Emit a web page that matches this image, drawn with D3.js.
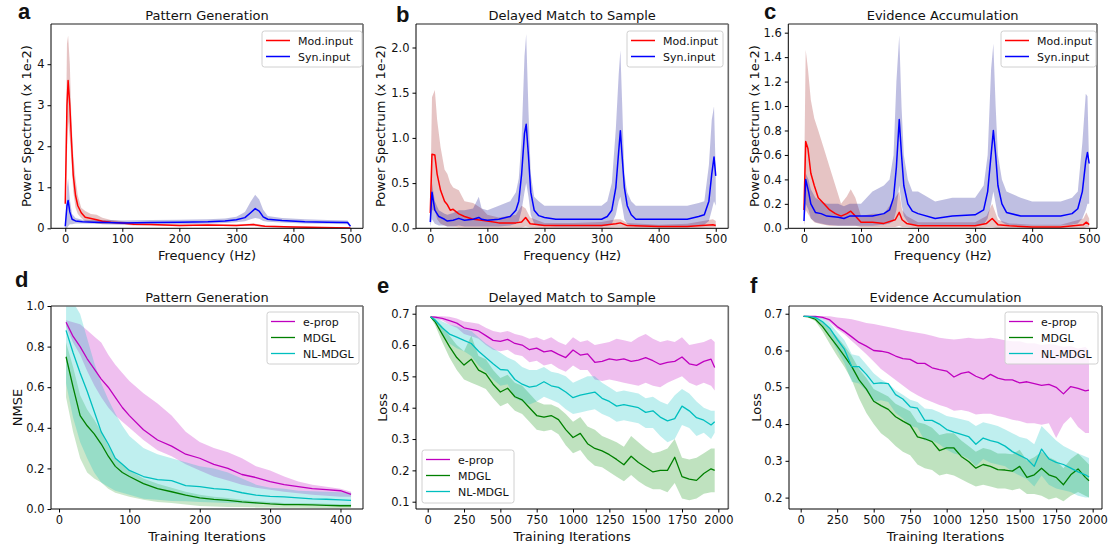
<!DOCTYPE html>
<html>
<head>
<meta charset="utf-8">
<script src="https://cdn.jsdelivr.net/npm/d3@7"></script>
<style>
body { margin: 0; background: #fff; }
text { font-family: "DejaVu Sans", sans-serif; fill: #111; }
</style>
</head>
<body>
<svg id="fig" width="1110" height="546"></svg>
<script>
// ---------- panel a: Pattern Generation spectrum (x 1e-2) ----------
var freqModA = [0, 3, 5, 8, 11, 14, 18, 22, 28, 35, 45, 55, 65, 80, 100, 120, 150, 200, 250, 300, 330, 350, 400, 450, 500];
var modA     = [0.6, 3.0, 3.6, 3.0, 2.1, 1.3, 0.8, 0.55, 0.38, 0.27, 0.24, 0.21, 0.17, 0.15, 0.13, 0.1, 0.09, 0.07, 0.08, 0.07, 0.09, 0.05, 0.03, 0.02, 0.01];
var modAHi   = [1.0, 4.5, 4.7, 4.0, 2.6, 1.8, 1.2, 0.8, 0.5, 0.42, 0.35, 0.33, 0.26, 0.2, 0.17, 0.13, 0.11, 0.09, 0.1, 0.09, 0.12, 0.07, 0.05, 0.03, 0.02];
var modALo   = [0.3, 1.8, 2.6, 2.2, 1.6, 0.9, 0.5, 0.35, 0.25, 0.17, 0.15, 0.12, 0.1, 0.1, 0.09, 0.07, 0.07, 0.05, 0.06, 0.05, 0.06, 0.03, 0.02, 0.01, 0.0];
var freqSynA = [0, 3, 5, 8, 12, 18, 30, 50, 75, 100, 150, 200, 250, 280, 300, 315, 325, 333, 340, 347, 355, 380, 420, 460, 495, 500];
var synA     = [0.05, 0.55, 0.68, 0.4, 0.22, 0.18, 0.16, 0.15, 0.14, 0.13, 0.14, 0.15, 0.16, 0.18, 0.21, 0.26, 0.38, 0.48, 0.42, 0.28, 0.22, 0.19, 0.16, 0.15, 0.14, 0.05];
var synAHi   = [0.1, 1.0, 1.22, 0.7, 0.35, 0.25, 0.21, 0.2, 0.2, 0.19, 0.2, 0.21, 0.22, 0.24, 0.28, 0.4, 0.65, 0.82, 0.7, 0.45, 0.3, 0.25, 0.22, 0.2, 0.19, 0.07];
var synALo   = [0.0, 0.0, 0.05, 0.1, 0.1, 0.12, 0.12, 0.11, 0.1, 0.09, 0.1, 0.1, 0.11, 0.13, 0.15, 0.17, 0.22, 0.25, 0.23, 0.18, 0.16, 0.14, 0.12, 0.11, 0.1, 0.03];

// ---------- panel b: Delayed Match to Sample spectrum ----------
var freqModB = [0, 3, 8, 12, 18, 25, 30, 35, 40, 50, 60, 75, 90, 100, 120, 150, 160, 167, 175, 200, 250, 300, 325, 333, 345, 400, 450, 495, 500];
var modB     = [0.17, 0.82, 0.81, 0.6, 0.42, 0.3, 0.26, 0.2, 0.21, 0.16, 0.13, 0.1, 0.09, 0.08, 0.06, 0.06, 0.07, 0.12, 0.05, 0.03, 0.03, 0.03, 0.05, 0.06, 0.03, 0.02, 0.02, 0.04, 0.03];
var modBHi   = [0.3, 1.45, 1.53, 1.2, 0.9, 0.65, 0.6, 0.5, 0.45, 0.42, 0.3, 0.28, 0.22, 0.15, 0.12, 0.15, 0.25, 0.22, 0.12, 0.06, 0.06, 0.07, 0.1, 0.1, 0.06, 0.04, 0.05, 0.1, 0.08];
var modBLo   = [0.05, 0.2, 0.2, 0.1, 0.05, 0.03, 0.02, 0.02, 0.02, 0.01, 0.01, 0.01, 0.01, 0.01, 0.01, 0.01, 0.01, 0.02, 0.01, 0, 0, 0, 0.01, 0.01, 0, 0, 0, 0.01, 0.01];
var freqSynB = [0, 3, 8, 15, 25, 30, 40, 50, 60, 75, 85, 90, 100, 120, 140, 150, 155, 160, 165, 168, 172, 176, 182, 190, 200, 220, 250, 280, 300, 310, 318, 325, 330, 333, 336, 340, 345, 352, 360, 400, 450, 470, 480, 488, 493, 497, 500];
var synB     = [0.07, 0.4, 0.2, 0.13, 0.1, 0.08, 0.09, 0.11, 0.09, 0.1, 0.12, 0.1, 0.09, 0.1, 0.13, 0.2, 0.3, 0.6, 1.05, 1.15, 0.8, 0.4, 0.2, 0.14, 0.12, 0.1, 0.1, 0.1, 0.1, 0.13, 0.2, 0.45, 0.85, 1.08, 0.8, 0.45, 0.25, 0.15, 0.1, 0.1, 0.1, 0.13, 0.15, 0.3, 0.6, 0.79, 0.58];
var synBHi   = [0.1, 0.5, 0.3, 0.2, 0.16, 0.15, 0.17, 0.2, 0.2, 0.22, 0.35, 0.22, 0.2, 0.25, 0.3, 0.4, 0.55, 1.0, 1.9, 2.15, 1.3, 0.6, 0.35, 0.3, 0.25, 0.25, 0.25, 0.25, 0.25, 0.3, 0.5, 1.1, 1.7, 1.97, 1.4, 0.6, 0.4, 0.3, 0.25, 0.25, 0.25, 0.28, 0.3, 0.7, 1.2, 1.35, 0.6];
var synBLo   = [0.02, 0.1, 0.05, 0.03, 0.03, 0.02, 0.02, 0.03, 0.02, 0.02, 0.02, 0.02, 0.02, 0.02, 0.03, 0.05, 0.08, 0.2, 0.4, 0.5, 0.35, 0.15, 0.05, 0.03, 0.03, 0.02, 0.02, 0.02, 0.02, 0.03, 0.05, 0.15, 0.3, 0.35, 0.25, 0.1, 0.05, 0.03, 0.02, 0.02, 0.02, 0.03, 0.04, 0.08, 0.2, 0.3, 0.25];

// ---------- panel c: Evidence Accumulation spectrum ----------
var freqModC = [0, 3, 7, 12, 18, 25, 35, 45, 55, 65, 75, 82, 90, 100, 120, 140, 160, 167, 172, 180, 200, 250, 300, 320, 330, 340, 360, 400, 450, 490, 495, 500];
var modC     = [0.15, 0.71, 0.65, 0.45, 0.35, 0.25, 0.2, 0.15, 0.12, 0.1, 0.12, 0.14, 0.1, 0.05, 0.05, 0.04, 0.07, 0.13, 0.07, 0.04, 0.02, 0.02, 0.02, 0.04, 0.08, 0.03, 0.02, 0.01, 0.01, 0.03, 0.05, 0.03];
var modCHi   = [0.3, 1.46, 1.3, 1.05, 0.9, 0.8, 0.65, 0.5, 0.35, 0.2, 0.26, 0.32, 0.25, 0.1, 0.12, 0.12, 0.25, 0.3, 0.15, 0.1, 0.05, 0.05, 0.05, 0.1, 0.2, 0.07, 0.04, 0.03, 0.03, 0.08, 0.13, 0.08];
var modCLo   = [0.02, 0.15, 0.12, 0.08, 0.05, 0.04, 0.03, 0.02, 0.02, 0.02, 0.02, 0.02, 0.02, 0.01, 0.01, 0.01, 0.01, 0.02, 0.01, 0.01, 0, 0, 0, 0.01, 0.01, 0, 0, 0, 0, 0, 0.01, 0.01];
var freqSynC = [0, 3, 8, 12, 20, 30, 40, 60, 70, 80, 100, 120, 140, 150, 157, 162, 167, 171, 175, 182, 190, 200, 230, 260, 300, 315, 322, 328, 332, 336, 340, 347, 355, 380, 400, 450, 470, 480, 488, 494, 497, 500];
var synC     = [0.06, 0.4, 0.3, 0.2, 0.13, 0.12, 0.1, 0.09, 0.08, 0.1, 0.1, 0.1, 0.12, 0.15, 0.25, 0.5, 0.89, 0.6, 0.35, 0.2, 0.14, 0.12, 0.08, 0.1, 0.11, 0.15, 0.3, 0.6, 0.8, 0.6, 0.35, 0.2, 0.13, 0.1, 0.1, 0.1, 0.12, 0.16, 0.3, 0.55, 0.62, 0.53];
var synCHi   = [0.1, 0.45, 0.4, 0.32, 0.25, 0.22, 0.2, 0.2, 0.18, 0.2, 0.2, 0.3, 0.35, 0.4, 0.6, 1.2, 1.58, 1.0, 0.6, 0.4, 0.3, 0.3, 0.22, 0.25, 0.25, 0.35, 0.6, 1.3, 1.51, 1.0, 0.6, 0.4, 0.3, 0.25, 0.22, 0.22, 0.25, 0.3, 0.7, 1.1, 1.08, 0.5];
var synCLo   = [0.02, 0.2, 0.15, 0.08, 0.05, 0.04, 0.03, 0.02, 0.02, 0.02, 0.02, 0.02, 0.03, 0.04, 0.06, 0.15, 0.35, 0.2, 0.1, 0.05, 0.03, 0.03, 0.02, 0.02, 0.02, 0.03, 0.08, 0.2, 0.3, 0.2, 0.1, 0.05, 0.03, 0.02, 0.02, 0.02, 0.03, 0.04, 0.08, 0.15, 0.2, 0.2];

// ---------- panel d: Pattern Generation NMSE ----------
var iterD     = [10, 20, 30, 40, 50, 60, 70, 80, 90, 100, 120, 140, 160, 180, 200, 220, 240, 260, 280, 300, 320, 340, 360, 380, 400, 415];
var epropD    = [0.92, 0.85, 0.80, 0.74, 0.69, 0.64, 0.60, 0.55, 0.50, 0.46, 0.39, 0.34, 0.31, 0.27, 0.25, 0.22, 0.20, 0.17, 0.155, 0.135, 0.12, 0.11, 0.10, 0.095, 0.09, 0.072];
var epropDHi  = [0.93, 0.92, 0.91, 0.88, 0.85, 0.82, 0.76, 0.71, 0.67, 0.63, 0.57, 0.52, 0.46, 0.38, 0.33, 0.30, 0.28, 0.25, 0.21, 0.19, 0.16, 0.135, 0.12, 0.11, 0.10, 0.085];
var epropDLo  = [0.90, 0.82, 0.76, 0.68, 0.61, 0.55, 0.50, 0.46, 0.43, 0.40, 0.34, 0.29, 0.26, 0.22, 0.19, 0.16, 0.14, 0.12, 0.105, 0.095, 0.085, 0.077, 0.07, 0.065, 0.06, 0.06];
var mdglD     = [0.75, 0.60, 0.46, 0.41, 0.37, 0.32, 0.26, 0.21, 0.18, 0.16, 0.125, 0.10, 0.085, 0.068, 0.055, 0.047, 0.042, 0.035, 0.03, 0.025, 0.022, 0.022, 0.02, 0.018, 0.016, 0.016];
var mdglDHi   = [0.82, 0.70, 0.56, 0.49, 0.44, 0.38, 0.31, 0.25, 0.22, 0.19, 0.15, 0.125, 0.105, 0.085, 0.07, 0.06, 0.054, 0.046, 0.04, 0.034, 0.03, 0.03, 0.028, 0.026, 0.024, 0.024];
var mdglDLo   = [0.55, 0.38, 0.25, 0.18, 0.15, 0.13, 0.10, 0.08, 0.07, 0.06, 0.045, 0.035, 0.03, 0.022, 0.015, 0.012, 0.01, 0.01, 0.008, 0.007, 0.006, 0.006, 0.005, 0.005, 0.005, 0.005];
var nlmdglD   = [0.88, 0.77, 0.67, 0.58, 0.48, 0.38, 0.32, 0.25, 0.22, 0.19, 0.16, 0.145, 0.14, 0.115, 0.11, 0.10, 0.095, 0.08, 0.068, 0.062, 0.06, 0.055, 0.05, 0.048, 0.045, 0.042];
var nlmdglDHi = [1.05, 1.02, 0.96, 0.84, 0.72, 0.62, 0.54, 0.47, 0.41, 0.36, 0.30, 0.27, 0.25, 0.23, 0.21, 0.20, 0.18, 0.15, 0.12, 0.105, 0.1, 0.09, 0.088, 0.085, 0.082, 0.08];
var nlmdglDLo = [0.62, 0.45, 0.33, 0.25, 0.18, 0.13, 0.11, 0.09, 0.08, 0.07, 0.05, 0.045, 0.04, 0.038, 0.035, 0.032, 0.03, 0.028, 0.025, 0.025, 0.022, 0.021, 0.02, 0.02, 0.02, 0.02];

// ---------- panels e, f: loss curves ----------
var iterEF = [20, 50, 100, 150, 200, 250, 300, 350, 400, 450, 500, 550, 600, 650, 700, 750, 800, 850, 900, 950, 1000, 1050, 1100, 1150, 1200, 1250, 1300, 1350, 1400, 1450, 1500, 1550, 1600, 1650, 1700, 1750, 1800, 1850, 1900, 1950, 1975];

var epropE    = [0.690, 0.689, 0.685, 0.678, 0.670, 0.655, 0.650, 0.645, 0.630, 0.615, 0.612, 0.618, 0.605, 0.600, 0.585, 0.590, 0.578, 0.582, 0.570, 0.560, 0.584, 0.568, 0.572, 0.545, 0.548, 0.556, 0.552, 0.556, 0.548, 0.552, 0.560, 0.550, 0.538, 0.545, 0.548, 0.562, 0.540, 0.535, 0.548, 0.555, 0.528];
var epropEHi  = [0.692, 0.693, 0.692, 0.690, 0.685, 0.675, 0.672, 0.668, 0.655, 0.645, 0.640, 0.645, 0.635, 0.630, 0.620, 0.625, 0.615, 0.625, 0.610, 0.600, 0.625, 0.610, 0.615, 0.600, 0.605, 0.610, 0.620, 0.615, 0.610, 0.625, 0.635, 0.620, 0.610, 0.615, 0.610, 0.625, 0.600, 0.605, 0.610, 0.620, 0.610];
var epropELo  = [0.688, 0.685, 0.678, 0.665, 0.655, 0.635, 0.628, 0.620, 0.600, 0.585, 0.580, 0.585, 0.570, 0.565, 0.545, 0.550, 0.535, 0.540, 0.525, 0.515, 0.535, 0.520, 0.520, 0.490, 0.485, 0.490, 0.485, 0.480, 0.475, 0.470, 0.480, 0.470, 0.465, 0.480, 0.490, 0.500, 0.480, 0.470, 0.480, 0.470, 0.455];
var mdglE     = [0.690, 0.675, 0.635, 0.595, 0.560, 0.536, 0.555, 0.520, 0.508, 0.475, 0.450, 0.462, 0.435, 0.425, 0.400, 0.375, 0.370, 0.375, 0.362, 0.330, 0.305, 0.318, 0.285, 0.270, 0.262, 0.250, 0.235, 0.218, 0.245, 0.225, 0.210, 0.195, 0.200, 0.200, 0.242, 0.180, 0.172, 0.168, 0.190, 0.205, 0.200];
var mdglEHi   = [0.692, 0.685, 0.660, 0.630, 0.600, 0.580, 0.630, 0.565, 0.555, 0.520, 0.495, 0.505, 0.480, 0.470, 0.445, 0.420, 0.410, 0.410, 0.400, 0.380, 0.355, 0.370, 0.340, 0.330, 0.310, 0.300, 0.290, 0.275, 0.310, 0.290, 0.270, 0.255, 0.260, 0.270, 0.300, 0.240, 0.235, 0.240, 0.255, 0.270, 0.270];
var mdglELo   = [0.688, 0.665, 0.610, 0.560, 0.520, 0.490, 0.480, 0.470, 0.460, 0.430, 0.405, 0.415, 0.390, 0.380, 0.355, 0.330, 0.325, 0.330, 0.315, 0.280, 0.255, 0.265, 0.235, 0.215, 0.210, 0.195, 0.180, 0.165, 0.185, 0.165, 0.150, 0.140, 0.140, 0.130, 0.160, 0.110, 0.105, 0.110, 0.125, 0.130, 0.130];
var nlmdglE   = [0.690, 0.680, 0.655, 0.635, 0.625, 0.615, 0.605, 0.580, 0.560, 0.540, 0.522, 0.520, 0.490, 0.475, 0.466, 0.470, 0.483, 0.470, 0.465, 0.450, 0.432, 0.440, 0.445, 0.450, 0.430, 0.420, 0.405, 0.410, 0.405, 0.400, 0.385, 0.390, 0.370, 0.358, 0.365, 0.405, 0.390, 0.368, 0.360, 0.345, 0.355];
var nlmdglEHi = [0.692, 0.690, 0.675, 0.665, 0.660, 0.650, 0.645, 0.625, 0.605, 0.590, 0.575, 0.560, 0.550, 0.530, 0.520, 0.520, 0.530, 0.515, 0.510, 0.500, 0.480, 0.490, 0.500, 0.500, 0.480, 0.465, 0.450, 0.455, 0.450, 0.445, 0.430, 0.435, 0.420, 0.410, 0.440, 0.460, 0.445, 0.420, 0.400, 0.390, 0.390];
var nlmdglELo = [0.688, 0.670, 0.635, 0.605, 0.590, 0.580, 0.565, 0.535, 0.515, 0.490, 0.470, 0.475, 0.430, 0.420, 0.410, 0.420, 0.435, 0.425, 0.415, 0.395, 0.380, 0.385, 0.390, 0.395, 0.380, 0.370, 0.355, 0.360, 0.355, 0.350, 0.335, 0.335, 0.310, 0.290, 0.300, 0.345, 0.335, 0.310, 0.320, 0.300, 0.320];

var epropF    = [0.693, 0.693, 0.693, 0.690, 0.683, 0.665, 0.652, 0.637, 0.622, 0.612, 0.600, 0.598, 0.594, 0.585, 0.578, 0.576, 0.565, 0.565, 0.553, 0.548, 0.544, 0.528, 0.538, 0.542, 0.530, 0.522, 0.535, 0.525, 0.520, 0.520, 0.512, 0.515, 0.510, 0.505, 0.508, 0.500, 0.482, 0.502, 0.497, 0.490, 0.492];
var epropFHi  = [0.694, 0.694, 0.694, 0.694, 0.693, 0.690, 0.688, 0.685, 0.680, 0.675, 0.672, 0.668, 0.664, 0.660, 0.655, 0.652, 0.648, 0.645, 0.640, 0.635, 0.632, 0.630, 0.632, 0.635, 0.632, 0.632, 0.635, 0.632, 0.628, 0.625, 0.625, 0.620, 0.620, 0.615, 0.618, 0.615, 0.610, 0.612, 0.605, 0.610, 0.600];
var epropFLo  = [0.692, 0.692, 0.690, 0.686, 0.676, 0.658, 0.644, 0.626, 0.608, 0.590, 0.570, 0.550, 0.535, 0.520, 0.505, 0.490, 0.478, 0.468, 0.460, 0.452, 0.446, 0.436, 0.438, 0.434, 0.426, 0.428, 0.428, 0.422, 0.418, 0.412, 0.408, 0.402, 0.402, 0.398, 0.402, 0.362, 0.400, 0.420, 0.392, 0.376, 0.376];
var mdglF     = [0.693, 0.692, 0.685, 0.665, 0.638, 0.612, 0.585, 0.556, 0.520, 0.495, 0.462, 0.450, 0.440, 0.420, 0.408, 0.397, 0.365, 0.360, 0.352, 0.328, 0.335, 0.335, 0.312, 0.298, 0.280, 0.290, 0.285, 0.276, 0.275, 0.272, 0.285, 0.255, 0.262, 0.280, 0.262, 0.255, 0.235, 0.262, 0.278, 0.255, 0.246];
var mdglFHi   = [0.694, 0.694, 0.690, 0.678, 0.658, 0.637, 0.612, 0.585, 0.550, 0.525, 0.495, 0.485, 0.475, 0.455, 0.445, 0.435, 0.405, 0.400, 0.390, 0.370, 0.375, 0.375, 0.355, 0.340, 0.325, 0.335, 0.330, 0.320, 0.320, 0.318, 0.330, 0.300, 0.310, 0.325, 0.310, 0.300, 0.280, 0.305, 0.320, 0.300, 0.290];
var mdglFLo   = [0.692, 0.690, 0.680, 0.652, 0.618, 0.585, 0.555, 0.520, 0.470, 0.430, 0.400, 0.375, 0.360, 0.340, 0.325, 0.315, 0.290, 0.280, 0.275, 0.260, 0.265, 0.260, 0.250, 0.240, 0.230, 0.235, 0.230, 0.225, 0.225, 0.220, 0.225, 0.210, 0.210, 0.205, 0.195, 0.200, 0.190, 0.205, 0.215, 0.205, 0.200];
var nlmdglF   = [0.693, 0.693, 0.690, 0.678, 0.660, 0.630, 0.603, 0.556, 0.556, 0.535, 0.510, 0.512, 0.510, 0.480, 0.468, 0.447, 0.443, 0.410, 0.410, 0.400, 0.385, 0.378, 0.372, 0.366, 0.345, 0.362, 0.355, 0.350, 0.340, 0.325, 0.315, 0.305, 0.285, 0.332, 0.305, 0.296, 0.290, 0.280, 0.270, 0.262, 0.256];
var nlmdglFHi = [0.694, 0.694, 0.693, 0.688, 0.675, 0.650, 0.628, 0.590, 0.585, 0.562, 0.538, 0.522, 0.510, 0.492, 0.480, 0.466, 0.460, 0.442, 0.440, 0.432, 0.422, 0.418, 0.413, 0.408, 0.395, 0.405, 0.400, 0.395, 0.385, 0.375, 0.365, 0.360, 0.345, 0.395, 0.375, 0.355, 0.340, 0.330, 0.320, 0.312, 0.308];
var nlmdglFLo = [0.692, 0.692, 0.685, 0.665, 0.640, 0.600, 0.565, 0.515, 0.510, 0.490, 0.460, 0.465, 0.460, 0.430, 0.415, 0.395, 0.390, 0.355, 0.355, 0.345, 0.330, 0.320, 0.315, 0.305, 0.285, 0.305, 0.295, 0.290, 0.285, 0.270, 0.260, 0.250, 0.230, 0.260, 0.235, 0.225, 0.220, 0.215, 0.205, 0.200, 0.200];

// ---------- labels / ticks ----------
var specNames = ["Mod.input", "Syn.input"];
var lossNames = ["e-prop", "MDGL", "NL-MDGL"];
var titles = ["Pattern Generation", "Delayed Match to Sample", "Evidence Accumulation"];
var freqTicks = [0, 100, 200, 300, 400, 500];
var iterTicksD = [0, 100, 200, 300, 400];
var iterTicksEF = [0, 250, 500, 750, 1000, 1250, 1500, 1750, 2000];

var RED = "#ff0000", BLUE = "#0000ff";
var MAG = "#bf00bf", GRN = "#008000", CYN = "#00bfbf";

var svg = d3.select("#fig");

function spec(name, x, m, lo, hi, col, band, op) {
  return {name: name, x: x, mean: m, lo: lo, hi: hi, color: col, band: band, op: op};
}

var panels = [
  {letter: "a", lx: 18, ly: 19, title: titles[0], l: 51, t: 24, r: 363, b: 228.3,
   xDom: [-25, 522], yDom: [0, 4.98], xTicks: freqTicks, yTicks: [0, 1, 2, 3, 4], yFmt: d3.format("d"),
   xLabel: "Frequency (Hz)", yLabel: "Power Spectrum (x 1e-2)", ylx: 31, lw: 1.5,
   legend: {x: 262, y: 31, w: 100, h: 36},
   series: [spec(specNames[0], freqModA, modA, modALo, modAHi, RED, "#a52a2a", 0.28),
            spec(specNames[1], freqSynA, synA, synALo, synAHi, BLUE, "#00008b", 0.25)]},
  {letter: "b", lx: 396, ly: 22, title: titles[1], l: 416, t: 24, r: 728.3, b: 228.3,
   xDom: [-25, 522], yDom: [0, 2.26], xTicks: freqTicks, yTicks: [0, 0.5, 1.0, 1.5, 2.0], yFmt: d3.format(".1f"),
   xLabel: "Frequency (Hz)", yLabel: "Power Spectrum (x 1e-2)", ylx: 385, lw: 1.5,
   legend: {x: 627, y: 31, w: 96, h: 36},
   series: [spec(specNames[0], freqModB, modB, modBLo, modBHi, RED, "#a52a2a", 0.28),
            spec(specNames[1], freqSynB, synB, synBLo, synBHi, BLUE, "#00008b", 0.25)]},
  {letter: "c", lx: 764, ly: 19, title: titles[2], l: 788.3, t: 24, r: 1097, b: 228.3,
   xDom: [-27.5, 513.7], yDom: [0, 1.671], xTicks: freqTicks, yTicks: [0, 0.2, 0.4, 0.6, 0.8, 1.0, 1.2, 1.4, 1.6], yFmt: d3.format(".1f"),
   xLabel: "Frequency (Hz)", yLabel: "Power Spectrum (x 1e-2)", ylx: 759, lw: 1.5,
   legend: {x: 1001, y: 31, w: 95, h: 36},
   series: [spec(specNames[0], freqModC, modC, modCLo, modCHi, RED, "#a52a2a", 0.28),
            spec(specNames[1], freqSynC, synC, synCLo, synCHi, BLUE, "#00008b", 0.25)]},
  {letter: "d", lx: 15, ly: 287, title: titles[0], l: 51, t: 306, r: 363, b: 509,
   xDom: [-11.4, 432], yDom: [0, 1.0], xTicks: iterTicksD, yTicks: [0, 0.2, 0.4, 0.6, 0.8, 1.0], yFmt: d3.format(".1f"),
   xLabel: "Training Iterations", yLabel: "NMSE", ylx: 22, lw: 1.3,
   legend: {x: 267, y: 312, w: 92, h: 52},
   series: [spec(lossNames[0], iterD, epropD, epropDLo, epropDHi, MAG, MAG, 0.25),
            spec(lossNames[1], iterD, mdglD, mdglDLo, mdglDHi, GRN, "#2ca02c", 0.25),
            spec(lossNames[2], iterD, nlmdglD, nlmdglDLo, nlmdglDHi, CYN, CYN, 0.25)]},
  {letter: "e", lx: 377, ly: 293, title: titles[1], l: 416, t: 306, r: 728.3, b: 509,
   xDom: [-80.5, 2068.6], yDom: [0.0767, 0.7246], xTicks: iterTicksEF, yTicks: [0.1, 0.2, 0.3, 0.4, 0.5, 0.6, 0.7], yFmt: d3.format(".1f"),
   xLabel: "Training Iterations", yLabel: "Loss", ylx: 387, lw: 1.3,
   legend: {x: 422, y: 450, w: 92, h: 53},
   series: [spec(lossNames[0], iterEF, epropE, epropELo, epropEHi, MAG, MAG, 0.25),
            spec(lossNames[1], iterEF, mdglE, mdglELo, mdglEHi, GRN, "#2ca02c", 0.3),
            spec(lossNames[2], iterEF, nlmdglE, nlmdglELo, nlmdglEHi, CYN, CYN, 0.25)]},
  {letter: "f", lx: 750, ly: 293, title: titles[2], l: 789, t: 306, r: 1102, b: 509,
   xDom: [-80, 2064], yDom: [0.169, 0.721], xTicks: iterTicksEF, yTicks: [0.2, 0.3, 0.4, 0.5, 0.6, 0.7], yFmt: d3.format(".1f"),
   xLabel: "Training Iterations", yLabel: "Loss", ylx: 761, lw: 1.3,
   legend: {x: 1005, y: 312, w: 93, h: 52},
   series: [spec(lossNames[0], iterEF, epropF, epropFLo, epropFHi, MAG, MAG, 0.25),
            spec(lossNames[1], iterEF, mdglF, mdglFLo, mdglFHi, GRN, "#2ca02c", 0.3),
            spec(lossNames[2], iterEF, nlmdglF, nlmdglFLo, nlmdglFHi, CYN, CYN, 0.25)]}
];

panels.forEach(drawPanel);

function drawPanel(p) {
  var x = d3.scaleLinear().domain(p.xDom).range([p.l, p.r]);
  var y = d3.scaleLinear().domain(p.yDom).range([p.b, p.t]);
  var g = svg.append("g");

  var clipId = "clip-" + p.letter;
  svg.append("clipPath").attr("id", clipId)
    .append("rect").attr("x", p.l).attr("y", p.t).attr("width", p.r - p.l).attr("height", p.b - p.t);
  var plot = g.append("g").attr("clip-path", "url(#" + clipId + ")");

  var area = d3.area().x(function(d) { return x(d.x); })
    .y0(function(d) { return y(d.lo); }).y1(function(d) { return y(d.hi); });
  var line = d3.line().x(function(d) { return x(d.x); }).y(function(d) { return y(d.m); });

  p.series.forEach(function(s) {
    var pts = s.x.map(function(v, i) { return {x: v, m: s.mean[i], lo: s.lo[i], hi: s.hi[i]}; });
    s.pts = pts;
    plot.append("path").datum(pts).attr("d", area)
      .attr("fill", s.band).attr("fill-opacity", s.op).attr("stroke", "none");
  });
  p.series.forEach(function(s) {
    plot.append("path").datum(s.pts).attr("d", line)
      .attr("fill", "none").attr("stroke", s.color).attr("stroke-width", p.lw)
      .attr("stroke-linejoin", "round");
  });

  // axes
  var xa = g.append("g").attr("transform", "translate(0," + p.b + ")")
    .call(d3.axisBottom(x).tickValues(p.xTicks).tickSize(3.5).tickPadding(3).tickFormat(d3.format("d")));
  var ya = g.append("g").attr("transform", "translate(" + p.l + ",0)")
    .call(d3.axisLeft(y).tickValues(p.yTicks).tickSize(3.5).tickPadding(3).tickFormat(p.yFmt));
  [xa, ya].forEach(function(a) {
    a.select(".domain").remove();
    a.selectAll("line").attr("stroke", "#000");
    a.selectAll("text").style("font-size", "11.5px").style("font-family", "DejaVu Sans").attr("fill", "#111");
  });

  // spines
  g.append("line").attr("x1", p.l).attr("x2", p.r).attr("y1", p.t).attr("y2", p.t).attr("stroke", "#6a6a6a").attr("stroke-width", 1.6);
  g.append("line").attr("x1", p.r).attr("x2", p.r).attr("y1", p.t).attr("y2", p.b).attr("stroke", "#6a6a6a").attr("stroke-width", 1.6);
  g.append("line").attr("x1", p.l).attr("x2", p.r).attr("y1", p.b).attr("y2", p.b).attr("stroke", "#000").attr("stroke-width", 1);
  g.append("line").attr("x1", p.l).attr("x2", p.l).attr("y1", p.t).attr("y2", p.b).attr("stroke", "#000").attr("stroke-width", 1);

  // labels
  g.append("text").attr("x", (p.l + p.r) / 2).attr("y", p.t - 4.5).attr("text-anchor", "middle")
    .style("font-size", "13px").text(p.title);
  g.append("text").attr("x", (p.l + p.r) / 2).attr("y", p.b + 31.5).attr("text-anchor", "middle")
    .style("font-size", "13px").text(p.xLabel);
  g.append("text").attr("transform", "translate(" + p.ylx + "," + ((p.t + p.b) / 2) + ") rotate(-90)")
    .attr("text-anchor", "middle").style("font-size", "13px").text(p.yLabel);
  g.append("text").attr("x", p.lx).attr("y", p.ly)
    .style("font-family", "Liberation Sans, Arial, sans-serif").style("font-weight", "bold")
    .style("font-size", "22px").text(p.letter);

  // legend
  var L = p.legend;
  var lg = g.append("g");
  lg.append("rect").attr("x", L.x).attr("y", L.y).attr("width", L.w).attr("height", L.h)
    .attr("rx", 2.5).attr("fill", "#fff").attr("fill-opacity", 0.8).attr("stroke", "#d0d0d0").attr("stroke-width", 1);
  p.series.forEach(function(s, i) {
    var cy = L.y + 9.5 + i * 16;
    lg.append("line").attr("x1", L.x + 4).attr("x2", L.x + 28).attr("y1", cy).attr("y2", cy)
      .attr("stroke", s.color).attr("stroke-width", p.lw);
    lg.append("text").attr("x", L.x + 36).attr("y", cy + 4).style("font-size", "11px").text(s.name);
  });
}
</script>
</body>
</html>
